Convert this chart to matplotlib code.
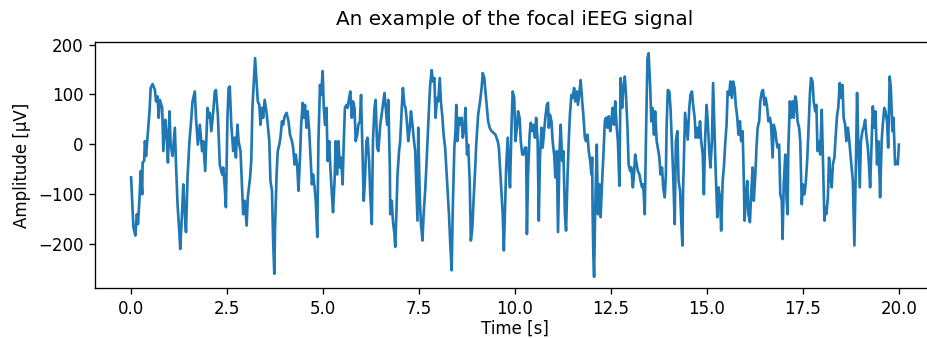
import matplotlib
matplotlib.use('Agg')
import matplotlib.pyplot as plt
import numpy as np

# time [s] and amplitude [uV]
time_s = [
    0.00, 0.06, 0.11, 0.15, 0.18, 0.22, 0.25, 0.29, 0.30, 0.34, 0.36, 0.39, 0.42, 0.48, 0.51, 0.56,
    0.62, 0.65, 0.69, 0.72, 0.75, 0.81, 0.84, 0.89, 0.93, 0.96, 1.00, 1.03, 1.08, 1.14, 1.17, 1.21,
    1.26, 1.28, 1.33, 1.36, 1.40, 1.43, 1.47, 1.52, 1.57, 1.60, 1.66, 1.69, 1.74, 1.79, 1.85, 1.88,
    1.93, 1.99, 2.02, 2.05, 2.09, 2.14, 2.18, 2.21, 2.26, 2.31, 2.37, 2.40, 2.44, 2.47, 2.51, 2.54,
    2.57, 2.61, 2.66, 2.70, 2.73, 2.77, 2.80, 2.85, 2.89, 2.92, 2.96, 3.01, 3.04, 3.10, 3.13, 3.16,
    3.23,
    3.30, 3.34, 3.37, 3.41, 3.44, 3.48, 3.53, 3.56, 3.60, 3.63, 3.67, 3.70, 3.73, 3.75, 3.79, 3.82,
    3.86, 3.89, 3.93, 3.96, 4.00, 4.05, 4.10, 4.14, 4.19, 4.22, 4.26, 4.29, 4.33, 4.36, 4.40, 4.43,
    4.47, 4.50, 4.53, 4.57, 4.60, 4.64, 4.67, 4.71, 4.74, 4.78, 4.81, 4.85, 4.88, 4.92, 4.95, 4.99,
    5.02, 5.05, 5.09, 5.12, 5.16, 5.19, 5.23, 5.26, 5.30, 5.33, 5.37, 5.40, 5.44, 5.47, 5.51, 5.54,
    5.57, 5.61, 5.64, 5.68, 5.71, 5.75, 5.78, 5.82, 5.85, 5.89, 5.92, 5.96, 5.99, 6.03, 6.06, 6.09,
    6.13, 6.16, 6.20, 6.23, 6.27, 6.30, 6.34, 6.37, 6.41, 6.44, 6.49, 6.55, 6.60,
    6.67, 6.70, 6.74, 6.75, 6.79, 6.82, 6.86, 6.88, 6.91, 6.94, 6.98, 7.01, 7.05, 7.08, 7.12, 7.15,
    7.19, 7.22, 7.26, 7.29, 7.33, 7.36, 7.40, 7.43, 7.46, 7.48, 7.52, 7.55, 7.59, 7.62, 7.66, 7.69,
    7.72, 7.76, 7.79, 7.83, 7.86, 7.90, 7.93, 7.97, 8.00, 8.04, 8.07, 8.11, 8.14, 8.18, 8.21, 8.24,
    8.28, 8.31, 8.35, 8.38, 8.42, 8.45, 8.47, 8.50, 8.54, 8.57, 8.61, 8.64, 8.68, 8.71, 8.75, 8.78,
    8.82, 8.85, 8.89, 8.92, 8.96, 8.99, 9.04, 9.09, 9.13, 9.16, 9.20, 9.23, 9.27, 9.30, 9.34, 9.39,
    9.44, 9.49, 9.55, 9.58, 9.61, 9.65, 9.68, 9.71, 9.74, 9.77, 9.81, 9.84, 9.87, 9.91, 9.94, 9.98,
    10.01,
    10.05, 10.08, 10.12, 10.15, 10.19, 10.22, 10.26, 10.29, 10.31, 10.34, 10.38, 10.41, 10.45, 10.48,
    10.52, 10.55, 10.59, 10.62, 10.65, 10.69, 10.72, 10.76, 10.79, 10.83, 10.86, 10.88, 10.91, 10.95,
    10.98, 11.02, 11.05, 11.09, 11.12, 11.16, 11.19, 11.23, 11.26, 11.30, 11.33, 11.37, 11.40, 11.43,
    11.47, 11.50, 11.54, 11.57, 11.61, 11.64, 11.68, 11.71, 11.75, 11.78, 11.82, 11.85, 11.89, 11.92,
    11.96, 11.99, 12.01, 12.02, 12.04, 12.06, 12.09, 12.13, 12.16, 12.20, 12.23, 12.27, 12.30, 12.34,
    12.37, 12.41, 12.44, 12.48, 12.51, 12.54, 12.58, 12.61, 12.65, 12.68, 12.72, 12.75, 12.79, 12.82,
    12.86, 12.89, 12.93, 12.96, 13.00, 13.03, 13.07, 13.10, 13.13, 13.17, 13.20, 13.24, 13.27, 13.31,
    13.34, 13.38,
    13.41, 13.45, 13.48, 13.52, 13.55, 13.58, 13.62, 13.65, 13.69, 13.72, 13.76, 13.79, 13.83, 13.86,
    13.90, 13.93, 13.95, 13.98, 14.02, 14.05, 14.09, 14.12, 14.16, 14.19, 14.23, 14.26, 14.30, 14.33,
    14.36, 14.38, 14.42, 14.43, 14.47, 14.50, 14.54, 14.57, 14.61, 14.64, 14.68, 14.71, 14.75, 14.78,
    14.82, 14.85, 14.89, 14.92, 14.95, 14.99, 15.02, 15.06, 15.09, 15.13, 15.16, 15.20, 15.23, 15.27,
    15.30, 15.34, 15.37, 15.41, 15.44, 15.48, 15.51, 15.54, 15.58, 15.61, 15.65, 15.68, 15.72, 15.75,
    15.79, 15.82, 15.86, 15.89, 15.93, 15.96, 15.98, 16.01, 16.05, 16.08, 16.12, 16.15, 16.19, 16.22,
    16.26, 16.29, 16.32, 16.36, 16.39, 16.43, 16.46, 16.50, 16.53, 16.57, 16.60, 16.64, 16.67, 16.71,
    16.74,
    16.78, 16.81, 16.84, 16.88, 16.91, 16.95, 16.97, 17.00, 17.04, 17.07, 17.10, 17.12, 17.16, 17.19,
    17.23, 17.26, 17.30, 17.33, 17.36, 17.40, 17.43, 17.47, 17.50, 17.54, 17.57, 17.61, 17.64, 17.68,
    17.71, 17.75, 17.78, 17.82, 17.85, 17.88, 17.92, 17.95, 17.99, 18.02, 18.06, 18.08, 18.11, 18.15,
    18.18, 18.21, 18.25, 18.28, 18.32, 18.35, 18.39, 18.42, 18.46, 18.49, 18.53, 18.56, 18.60, 18.63,
    18.67, 18.70, 18.73, 18.77, 18.80, 18.84, 18.89, 18.91, 18.94, 18.98, 19.01, 19.05, 19.08, 19.12,
    19.15, 19.19, 19.22, 19.25, 19.29, 19.32, 19.36, 19.39, 19.43, 19.46, 19.50, 19.51, 19.55, 19.58,
    19.62, 19.65, 19.69, 19.72, 19.76, 19.79, 19.83, 19.86, 19.90, 19.93, 19.97, 20.00,
]

amp_uv = [
    -67, -167, -184, -141, -161, -107, -54, -101, -37, -34, 6, -24, 6, 66, 113, 121,
    109, 86, 96, 53, 89, 73, -14, 49, 16, -37, 66, -1, -24, 33, -41, -121,
    -181, -211, -134, -81, -141, -177, -67, 6, 53, 86, 106, 53, -1, 39, -14, 6,
    -54, 73, 53, 63, 26, 66, 106, 109, 59, -41, -61, -47, -87, -127, 53, 113,
    116, 39, -14, 13, -27, 39, 6, -14, -87, -141, -114, -164, -107, -67, -34, 73,
    173,
    86, 79, 39, 73, 53, 89, 63, 39, 6, -74, -94, -194, -261, -167, -61, -14,
    -1, 13, 46, 39, 56, 63, 46, 19, 6, -7, -41, -21, -47, -94, -27, 39,
    83, 53, 79, 33, 66, 26, -21, -81, -61, -87, -114, -187, 6, 119, 99, 147,
    73, 39, 73, -34, 6, -47, -101, -137, -74, 6, -61, 6, -47, -27, -81, 6,
    73, 79, 73, 93, 106, 53, 86, 73, 6, 19, 39, 46, 99, -27, -114, -74,
    6, 13, -34, -101, -161, 6, 73, 89, -7, -14, 39, 73, 103,
    39, 89, -47, -141, -114, -154, -181, -207, -141, -61, -14, 6, 73, 113, 79, 73,
    39, 6, 33, 66, 39, 13, -14, -87, -154, 33, -107, -161, -194, -141, -94, -47,
    6, 73, 119, 149, 126, 133, 53, 93, 86, 133, 86, 53, 19, -7, -47, -87,
    -141, -194, -254, -127, -7, 26, 79, 6, 53, 39, 53, 13, 33, 73, -21, -1,
    -74, -194, -167, -114, -54, -1, 59, 86, 113, 143, 133, 106, 73, 46, 33, 26,
    23, 19, 6, -7, -47, -101, -141, -214, -127, -47, 13, -47, -87, 39, 106, 93,
    6,
    33, 66, 53, 6, -21, -21, -7, -7, -181, -61, 19, 43, 26, 39,
    13, 53, 6, -154, -27, 33, -7, 26, 53, 79, 83, 33, 59, 46,
    6, -21, -67, -14, -177, -14, 39, -34, -14, -141, -174, -61, 6, 59,
    99, 93, 113, 86, 106, 79, 106, 129, 86, 59, 13, 6, 19, -14,
    -34, -61, -27, -127, -221, -267, -127, -1, -141, -81, -147, -74, -27, 46,
    53, 33, 56, 26, 46, 73, 39, 86, 33, 6, -84, 133, 73, 113,
    136, 99, 33, -41, -54, -47, -87, -61, -21, -41, -54, -61, -74, -87,
    -81, -141,
    6, 173, 183, 119, 46, 73, 19, 66, 6, -7, -27, -61, -47, -87,
    -107, -61, 39, 109, 106, 73, -1, -61, -161, 6, 26, -74, -94, -154,
    -204, -87, 39, 63, 33, 9, 73, 99, 106, 79, 53, 13, 33, 13,
    46, 6, -21, -101, 6, 79, 46, -14, -47, 6, 123, 19, -61, -147,
    -87, -107, -174, -74, -47, 6, 39, 106, 99, 126, 93, 126, 113, 79,
    53, 19, 46, 6, 26, -74, -154, -114, -74, -141, -157, -101, -47, -114,
    -61, -7, 33, 46, 86, 106, 109, 79, 93, 73, 46, 53, 39, -27,
    39,
    26, 6, -7, -1, -101, -114, -191, -81, -21, -107, -141, -7, 86, 53,
    86, 53, 96, 86, 46, 33, 6, -121, -81, -101, -81, -34, 19, 99,
    133, 126, 86, 66, 79, -14, 6, -21, 69, -27, -154, -127, -141, -107,
    -27, -61, -87, -41, -27, 13, 59, 73, 123, 93, 119, 53, 39, 6,
    33, 13, -14, -47, -74, -204, 6, 103, 6, -87, 6, 26, 33, 49,
    19, -7, -41, -87, 6, 76, 33, 66, -41, 6, -74, -107, 6, 39,
    73, 66, 46, -7, 136, 113, 26, 53, -41, -34, -41, -1,
]

fig = plt.figure(figsize=(927 / 120, 338 / 120), dpi=120)
ax = fig.add_axes([95 / 927, 50 / 338, 840 / 927, 246 / 338])

ax.plot(time_s, amp_uv, color='#1f77b4', linewidth=1.6)
ax.set_xlim(-0.94, 20.94)
ax.set_xticks(np.arange(0, 20.1, 2.5))
ax.set_yticks([-200, -100, 0, 100, 200])

ax.set_title('An example of the focal iEEG signal', pad=10)
ax.set_xlabel('Time [s]', labelpad=1)
ax.set_ylabel('Amplitude [\u00b5V]')

fig.savefig('out.png', dpi=120)
